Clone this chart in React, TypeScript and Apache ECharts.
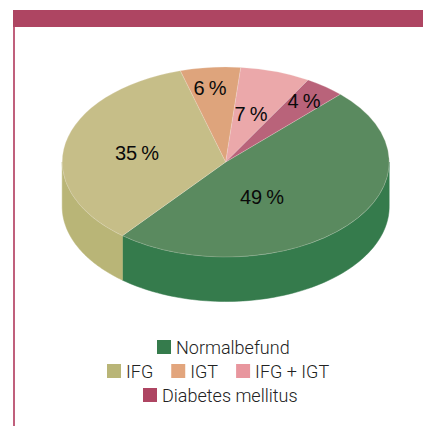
import React, { useEffect, useRef } from "react";
import * as echarts from "echarts";

const categories = ["Normalbefund", "IFG", "IGT", "IFG + IGT", "Diabetes mellitus"];
const percentValues = [49, 35, 6, 7, 4];
const legendColors = ["#357b4c", "#b9b577", "#e2a57d", "#e8969e", "#ae4562"];
const topColors = ["#5a8a5f", "#c6be88", "#dea47c", "#eba8aa", "#b9637a"];
const legendRows = [["Normalbefund"], ["IFG", "IGT", "IFG + IGT"], ["Diabetes mellitus"]];
const legendLefts = [157, 107, 143];

const CX = 225.7, CY = 162, RX = 163.5, RY = 95, DEPTH = 44.5, START = -45.5;
const labelAnchors = [[262, 197], [137, 153], [210, 88], [251, 114], [304, 101]];
const total = percentValues.reduce((a, b) => a + b, 0);

function spanOf(index: number) {
  const before = percentValues.slice(0, index).reduce((a, b) => a + b, 0);
  const a0 = START + (before / total) * 360;
  return [a0, a0 + (percentValues[index] / total) * 360];
}
const rad = (d: number) => (d * Math.PI) / 180;
const at = (d: number, dy: number) => [CX + RX * Math.cos(rad(d)), CY + dy + RY * Math.sin(rad(d))];

function wall(a0: number, a1: number, color: string) {
  const from = Math.max(a0, 0), to = Math.min(a1, 180);
  if (to <= from) return null;
  const top: number[][] = [], bottom: number[][] = [];
  for (let d = from; d <= to + 1e-6; d += (to - from) / 80) {
    top.push(at(d, 0));
    bottom.unshift(at(d, DEPTH));
  }
  return { type: "polygon", shape: { points: [...top, ...bottom] }, style: { fill: color, stroke: color, lineWidth: 0.5 } };
}

function makeSeries(i: number) {
  return {
    type: "custom",
    name: categories[i],
    coordinateSystem: "none",
    itemStyle: { color: legendColors[i] },
    data: [percentValues[i]],
    z: 2,
    renderItem: () => {
      const [a0, a1] = spanOf(i);
      const children: any[] = [];
      const w = wall(a0, a1, legendColors[i]);
      if (w) children.push(w);
      children.push({
        type: "sector",
        x: CX,
        y: CY,
        scaleY: RY / RX,
        shape: { cx: 0, cy: 0, r: RX, r0: 0, startAngle: rad(a0), endAngle: rad(a1), clockwise: true },
        style: { fill: topColors[i], stroke: "#f3e9e0", lineWidth: 0.3 },
      });
      return { type: "group", children };
    },
  };
}

// Percent labels sit above every slice, so they get their own series
const labelSeries = {
  type: "custom",
  name: "labels",
  coordinateSystem: "none",
  data: percentValues,
  z: 5,
  renderItem: (params: any, api: any) => ({
    type: "text",
    x: labelAnchors[params.dataIndex][0],
    y: labelAnchors[params.dataIndex][1],
    style: {
      text: `${api.value(0)}\u2009%`,
      fill: "#0a0a0a",
      font: '20px "Liberation Sans"',
      align: "center",
      verticalAlign: "middle",
    },
  }),
};

export default function App() {
  const ref = useRef<HTMLDivElement>(null);
  useEffect(() => {
    document.body.style.margin = "0";
    const chart = echarts.init(ref.current!, undefined, { renderer: "svg" });
    chart.setOption({
      animation: false,
      backgroundColor: "#ffffff",
      graphic: [
        { type: "rect", shape: { x: 13, y: 10, width: 410, height: 17 }, style: { fill: "#ae4562" }, z: 1 },
        { type: "rect", shape: { x: 13, y: 27, width: 2, height: 399 }, style: { fill: "#c0607c" }, z: 1 },
      ],
      legend: legendRows.map((row, i) => ({
        data: row,
        top: 338 + i * 24,
        left: legendLefts[i],
        padding: 0,
        icon: "rect",
        itemWidth: 14,
        itemHeight: 14,
        itemGap: 18,
        selectedMode: false,
        textStyle: { fontFamily: "Roboto", fontWeight: 300, fontSize: 18, color: "#222222" },
      })),
      series: [...categories.map((_, i) => makeSeries(i)), labelSeries],
    });
    return () => chart.dispose();
  }, []);
  return <div ref={ref} style={{ width: 423, height: 426 }} />;
}
